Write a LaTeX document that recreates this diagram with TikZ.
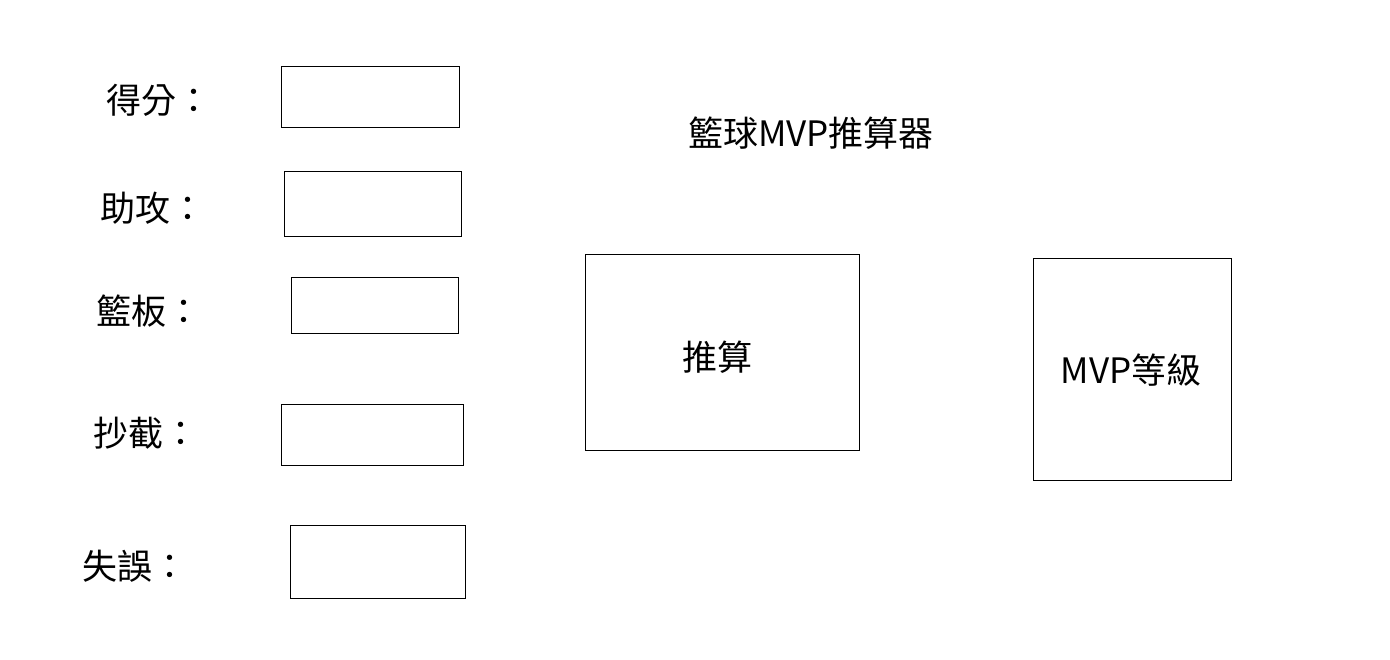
\documentclass[tikz,border=0pt]{standalone}
\usepackage{fontspec}
\setmainfont{Noto Sans CJK TC}
\begin{document}
\begin{tikzpicture}[x=1pt,y=-1pt,
  box/.style={draw=black,line width=1pt},
  lbl/.style={font=\fontsize{35}{42}\selectfont,inner sep=0pt}]
\useasboundingbox (0,0) rectangle (1390,659);
\fill[white] (0,0) rectangle (1390,659);
\node[lbl] (title) at (811,133) {籃球MVP推算器};
\node[lbl,anchor=west] (l1) at (106,100) {得分：};
\node[lbl,anchor=west] (l2) at (100,208) {助攻：};
\node[lbl,anchor=west] (l3) at (96,311) {籃板：};
\node[lbl,anchor=west] (l4) at (93,433) {抄截：};
\node[lbl,anchor=west] (l5) at (82,566) {失誤：};
\draw[box] (281,66) rectangle (459,127);
\draw[box] (284,171) rectangle (461,236);
\draw[box] (291,277) rectangle (458,333);
\draw[box] (281,404) rectangle (463,465);
\draw[box] (290,525) rectangle (465,598);
\draw[box] (585,254) rectangle (859,450);
\node[lbl] (calc) at (717,357) {推算};
\draw[box] (1033,258) rectangle (1231,480);
\node[lbl] (mvp) at (1131,370) {MVP等級};
\end{tikzpicture}
\end{document}
